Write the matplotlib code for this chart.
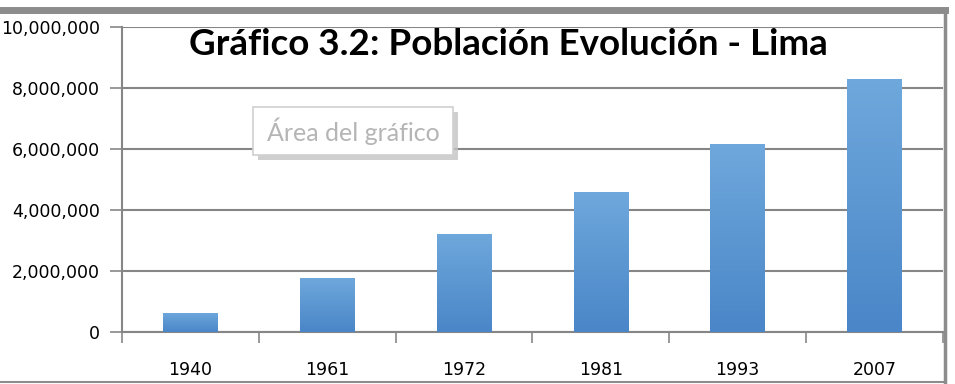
import numpy as np
import matplotlib.pyplot as plt
from matplotlib.lines import Line2D
from matplotlib.patches import Rectangle
from matplotlib.ticker import FuncFormatter, FixedLocator

years = ["1940", "1961", "1972", "1981", "1993", "2007"]
population = [630000, 1780000, 3220000, 4590000, 6150000, 8300000]
y_ticks = [0, 2000000, 4000000, 6000000, 8000000, 10000000]

title = "Gráfico 3.2: Población Evolución - Lima"
tooltip = "Área del gráfico"

fig = plt.figure(figsize=(9.55, 3.84), dpi=100)
ax = fig.add_axes([0.1277, 0.1354, 0.8597, 0.7943])

x = np.arange(len(years))
bars = ax.bar(x, population, width=0.4, color="#5b9bd5", zorder=3)

# vertical gradient inside each bar, lighter on top
grad = np.linspace(0, 1, 256).reshape(-1, 1)
cmap = plt.matplotlib.colors.LinearSegmentedColormap.from_list(
    "bar", ["#4a86c8", "#6fa8dc"])
for b in bars:
    x0, y0 = b.get_x(), b.get_y()
    im = ax.imshow(grad, cmap=cmap, aspect="auto", origin="lower",
                   extent=(x0, x0 + b.get_width(), y0, y0 + b.get_height()),
                   zorder=4)
    im.set_clip_path(b)

ax.set_xlim(-0.5, len(years) - 0.5)
ax.set_ylim(0, 10000000)
ax.set_xticks(x)
ax.set_xticklabels(years)
ax.xaxis.set_minor_locator(FixedLocator(np.arange(-0.5, len(years), 1.0)))
ax.tick_params(axis="x", which="major", length=0, pad=21, labelsize=12.5)
ax.tick_params(axis="x", which="minor", length=8, width=1.2, color="#888888")
ax.set_yticks(y_ticks)
ax.yaxis.set_major_formatter(FuncFormatter(lambda v, p: f"{int(v):,}"))
ax.tick_params(axis="y", length=9, width=1.2, color="#888888",
               labelsize=12.5, pad=7)
for lab in ax.get_xticklabels() + ax.get_yticklabels():
    lab.set_family("Liberation Sans Narrow")

ax.grid(axis="y", color="#868686", linewidth=1.5, zorder=0)
for s in ["top", "right"]:
    ax.spines[s].set_visible(False)
ax.spines["left"].set_color("#868686")
ax.spines["left"].set_linewidth(1.5)
ax.spines["bottom"].set_color("#868686")
ax.spines["bottom"].set_linewidth(1.5)

fig.text(0.532, 0.884, title, ha="center", va="center", fontsize=26.5,
         fontweight="bold", family="Lato")

# tooltip box with a soft shadow
fig.add_artist(Rectangle((0.2701, 0.5834), 0.2094, 0.125,
                         transform=fig.transFigure, fc="#c4c4c4", ec="none",
                         alpha=0.8, zorder=5))
fig.add_artist(Rectangle((0.2649, 0.5964), 0.2094, 0.125,
                         transform=fig.transFigure, fc="white",
                         ec="#d0d0d0", lw=1.2, zorder=6))
fig.text(0.3696, 0.659, tooltip, ha="center", va="center", fontsize=18,
         color="#b5b5b5", family="Lato", zorder=7)

# outer frame of the chart area
fig.add_artist(Line2D([0, 0.99], [0.974, 0.974], color="#8c8c8c", lw=5))
fig.add_artist(Line2D([0.99, 0.99], [0.003, 0.974], color="#8c8c8c", lw=2.5))
fig.add_artist(Line2D([0, 0.99], [0.004, 0.004], color="#8c8c8c", lw=1.5))

fig.savefig("out.png", dpi=100)
